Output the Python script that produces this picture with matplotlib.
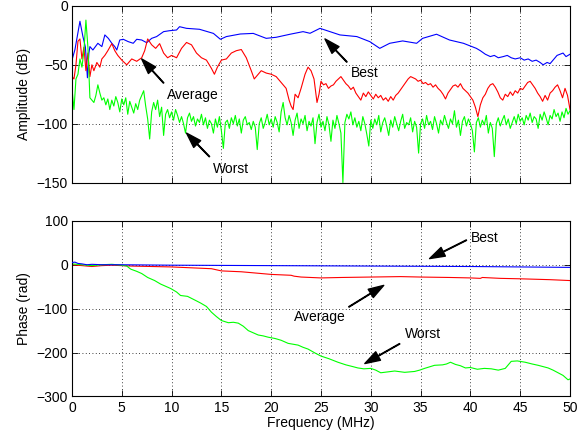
import numpy as np
import matplotlib
matplotlib.use("Agg")
import matplotlib.pyplot as plt

plt.rcParams['font.family'] = ['Liberation Sans', 'DejaVu Sans']
plt.rcParams['font.size'] = 10

# amplitude, best channel
f_amp_best = [0, 0.3, 0.8, 1.1, 1.35, 1.55, 1.7, 1.8, 2.1, 2.6, 3.0, 3.3, 3.65, 4.0, 4.3, 4.5, 4.8, 5.15, 5.65, 6.15,
              6.5, 7.0, 7.5, 8.0, 8.5, 9.2, 9.8, 10.5, 10.8, 11.5, 12.8, 14.2, 14.9, 15.5, 16.9, 18.2, 19.5, 20.5, 21.9, 23.2,
              23.9, 24.9, 25.9, 26.9, 28.6, 29.9, 30.9, 31.9, 33.2, 34.6, 35.2, 36.6, 37.9, 39.3, 40.6,
              41.0, 41.5, 42.0, 42.4, 42.8, 43.3, 43.7, 44.1, 44.5, 45.0, 45.4, 45.8, 46.2, 46.6, 47.0, 47.3, 47.7, 48.0,
              48.4, 48.7, 49.0, 49.3, 49.6, 50.0]
amp_best = [-46, -37, -13, -26, -35, -61, -40, -34.5, -37.4, -31.7, -34.5, -24.6, -27.5, -31.7, -34.5, -37.4, -28.9, -28.3, -30.3, -31.7,
            -28.3, -28.9, -31.2, -27.5, -26, -21.8, -21, -20.4, -17.6, -19, -19.8, -23.3, -28.3, -26, -23.8, -23.3, -27.5, -26.6, -24, -21.8,
            -23.2, -19, -21.8, -24.6, -26, -30.3, -36, -31.7, -29.7, -31.7, -27.5, -24, -28.9, -31.7, -36,
            -38, -41, -43, -42, -44, -43, -42, -44, -45, -44, -46, -45, -47, -46, -48, -50, -48,
            -49, -45, -42, -41, -40, -43, -41]

# amplitude, average channel, below 25 MHz
f_amp_avg_lo = [0.0, 0.2, 0.4, 0.6, 0.8, 1.0, 1.2, 1.4, 1.6, 1.8,
                2.0, 2.2, 2.5, 2.8, 3.0, 3.3, 3.6, 4.0, 4.3, 4.6,
                5.0, 5.5, 6.0, 6.5, 7.0, 7.3, 7.6, 8.0, 8.4, 8.8,
                9.2, 9.6, 10.0, 10.5, 11.0, 11.5, 12.0, 12.5, 13.0, 13.5,
                14.0, 14.3, 14.6, 15.0, 15.5, 16.0, 16.5, 17.0, 17.5, 18.0,
                18.3, 18.7, 19.0, 19.5, 20.0, 20.5, 21.0, 21.5, 21.8, 22.0,
                22.2, 22.4, 22.7, 23.0, 23.4, 23.7, 24.0, 24.3, 24.6, 24.8]
amp_avg_lo = [-60, -62, -50, -30, -28, -45, -35, -55, -40, -60,
              -50, -55, -48, -52, -45, -42, -38, -32, -38, -42,
              -46, -50, -45, -47, -44, -38, -28, -33, -36, -32,
              -40, -44, -42, -44, -36, -31, -33, -40, -44, -46,
              -53, -58, -52, -46, -45, -40, -38, -37, -44, -55,
              -62, -58, -55, -57, -58, -60, -65, -70, -80, -85,
              -88, -75, -78, -70, -58, -52, -55, -62, -82, -75]
# amplitude, average channel, 25 to 50 MHz every 0.25 MHz
amp_avg_hi = [-64, -67, -66, -70, -68, -67, -64, -62, -60, -63,
              -66, -68, -71, -69, -74, -77, -80, -74, -77, -73,
              -76, -79, -75, -78, -76, -80, -78, -81, -77, -80,
              -76, -74, -71, -68, -65, -62, -60, -61, -62, -64,
              -63, -66, -65, -67, -66, -69, -67, -70, -72, -75,
              -79, -74, -71, -68, -67, -69, -66, -70, -72, -74,
              -77, -80, -86, -94, -84, -78, -75, -70, -67, -66,
              -69, -73, -78, -80, -75, -77, -73, -76, -72, -74,
              -70, -71, -68, -65, -64, -67, -70, -74, -77, -81,
              -76, -80, -74, -72, -69, -67, -72, -78, -70, -76,
              -88]
f_amp_avg_hi = np.linspace(25, 50, len(amp_avg_hi))

# amplitude, worst channel (sampled every 0.2 MHz)
amp_worst = [-70, -88, -62, -58, -45, -52, -38, -12, -35, -78, -80,
             -82, -76, -67, -74, -80, -78, -84, -79, -88, -80,
             -85, -77, -82, -90, -79, -84, -78, -92, -81, -86,
             -91, -83, -88, -80, -76, -72, -85, -96, -113, -90,
             -82, -88, -80, -94, -86, -110, -92, -88, -95, -90,
             -97, -88, -93, -99, -94, -100, -108, -95, -91, -98,
             -94, -102, -96, -99, -92, -101, -95, -104, -97, -100,
             -108, -96, -103, -94, -106, -121, -99, -97, -104, -95,
             -100, -93, -102, -96, -108, -97, -94, -101, -99, -105,
             -98, -103, -122, -100, -95, -104, -99, -92, -101, -96,
             -103, -94, -99, -107, -90, -82, -95, -101, -93, -99,
             -110, -97, -91, -104, -96, -100, -93, -106, -98, -102,
             -95, -117, -99, -92, -103, -98, -106, -94, -101, -115,
             -97, -104, -93, -100, -108, -150, -99, -92, -96, -90,
             -101, -95, -103, -98, -106, -94, -100, -109, -119, -97,
             -104, -96, -101, -93, -107, -99, -95, -102, -110, -97,
             -103, -94, -100, -106, -98, -92, -104, -99, -101, -95,
             -107, -98, -103, -125, -100, -96, -104, -93, -101, -98,
             -105, -94, -100, -108, -97, -101, -93, -99, -104, -96,
             -100, -89, -103, -97, -110, -98, -94, -102, -96, -100,
             -106, -124, -99, -95, -103, -97, -101, -93, -108, -99,
             -104, -128, -100, -95, -102, -97, -93, -101, -96, -104,
             -99, -94, -100, -92, -98, -95, -101, -93, -97, -91,
             -99, -94, -96, -104, -92, -97, -90, -95, -101, -93,
             -96, -88, -94, -91, -98, -90, -95, -87, -92, -89]
f_amp_worst = np.linspace(0, 50, len(amp_worst))

# phase
f_ph_best = [0, 0.3, 0.6, 1, 1.5, 2, 3, 5, 10, 20, 30, 40, 45, 50]
ph_best = [5, 6, 3, 2, 0, 1, 0, 0, -1, -2, -3, -4, -5, -6]

f_ph_avg = [0, 0.5, 1, 1.5, 2, 3, 4, 5, 6, 8, 10, 12, 14, 15, 17, 19, 20, 22, 22.3, 23, 25, 27, 30, 33, 35, 38,
            40, 41, 41.2, 43, 45, 48, 50]
ph_avg = [0, -1, -2, -3, -4, -2, -1, -2, -3, -4, -5, -7, -9, -14, -16, -20, -22, -24, -26, -28, -30, -29, -28, -27,
          -28, -29, -30, -31, -29, -31, -32, -34, -36]

f_ph_worst = [0, 1, 2, 3, 4, 5, 5.5, 5.9, 6.5, 7, 7.6, 8.3, 8.9, 9.5, 9.9, 10.5, 10.9, 11.6, 12.3, 12.9, 13.5, 14,
              14.5, 15, 15.7, 16.2, 16.7, 17.2, 17.7, 18.2, 18.7, 19.2, 19.7, 20.4, 21, 21.7, 22.2, 22.7, 23.2, 23.7,
              24.4, 25, 25.8, 26.7, 27.5, 28.2, 28.7, 29.3, 30, 30.5, 31, 31.7, 32.4, 33.4, 34.4, 34.9, 35.4, 36.4,
              37.2, 37.6, 38, 38.5, 39, 39.5, 40, 40.7, 41.4, 42.1, 42.8, 43.5, 44.1, 44.7, 45.5, 46.2, 46.8, 47.3,
              47.8, 48.3, 48.8, 49.3, 49.8, 50]
ph_worst = [2, 0, -2, 0, 1, -1, -3, -10, -15, -20, -29, -36, -44, -50, -54, -62, -70, -72, -80, -87, -95, -108,
            -118, -127, -132, -131, -133, -140, -150, -155, -160, -162, -165, -168, -172, -179, -181, -183, -188, -192,
            -201, -208, -214, -222, -228, -232, -235, -237, -236, -240, -246, -244, -242, -245, -243, -240, -236, -229,
            -228, -226, -222, -227, -230, -235, -234, -238, -236, -237, -240, -236, -220, -219, -222, -226, -229, -232,
            -235, -240, -246, -252, -262, -260]

fig = plt.figure(figsize=(5.88, 4.43), dpi=100)
ax1 = fig.add_axes([0.1224, 0.588, 0.847, 0.3985])
ax2 = fig.add_axes([0.1224, 0.105, 0.847, 0.3965])

lw = 0.8
ax1.plot(f_amp_best, amp_best, color='b', lw=lw)
ax1.plot(np.concatenate([f_amp_avg_lo, f_amp_avg_hi]), amp_avg_lo + amp_avg_hi, color='r', lw=lw)
ax1.plot(f_amp_worst, amp_worst, color=(0, 1, 0), lw=lw)

ax2.plot(f_ph_best, ph_best, color='b', lw=lw, zorder=3)
ax2.plot(f_ph_avg, ph_avg, color='r', lw=lw)
ax2.plot(f_ph_worst, ph_worst, color=(0, 1, 0), lw=lw)

ax1.set_xlim(0, 50)
ax1.set_ylim(-150, 0)
ax1.set_yticks([0, -50, -100, -150])
ax1.set_xticks(range(0, 51, 5))
ax1.set_xticklabels([])
ax1.set_ylabel('Amplitude (dB)')

ax2.set_xlim(0, 50)
ax2.set_ylim(-300, 100)
ax2.set_yticks([100, 0, -100, -200, -300])
ax2.set_xticks(range(0, 51, 5))
ax2.set_ylabel('Phase (rad)')
ax2.set_xlabel('Frequency (MHz)', labelpad=1)

for ax in (ax1, ax2):
    ax.grid(True, color='k', linestyle=(0, (1, 3)), lw=0.6)
    ax.tick_params(direction='in', top=True, right=True, length=4, width=0.6, pad=3)
    for s in ax.spines.values():
        s.set_linewidth(0.8)

arrow = dict(facecolor='black', edgecolor='black', width=0.4, headwidth=7, headlength=11, shrink=0)

ax1.annotate('', xy=(25.4, -28), xytext=(27.6, -47.6), arrowprops=arrow)
ax1.text(29.4, -57, 'Best', ha='center', va='center')
ax1.annotate('', xy=(7.0, -45), xytext=(9.2, -65.4), arrowprops=arrow)
ax1.text(12.1, -75.6, 'Average', ha='center', va='center')
ax1.annotate('', xy=(11.5, -108), xytext=(13.8, -128), arrowprops=arrow)
ax1.text(16.0, -138.5, 'Worst', ha='center', va='center')

ax2.annotate('', xy=(35.9, 14), xytext=(39.6, 56), arrowprops=arrow)
ax2.text(41.4, 60, 'Best', ha='center', va='center')
ax2.annotate('', xy=(31.3, -47), xytext=(27.8, -96), arrowprops=arrow)
ax2.text(24.85, -120, 'Average', ha='center', va='center')
ax2.annotate('', xy=(29.4, -225), xytext=(32.9, -180), arrowprops=arrow)
ax2.text(35.2, -157, 'Worst', ha='center', va='center')

fig.savefig('out.png', dpi=100)
